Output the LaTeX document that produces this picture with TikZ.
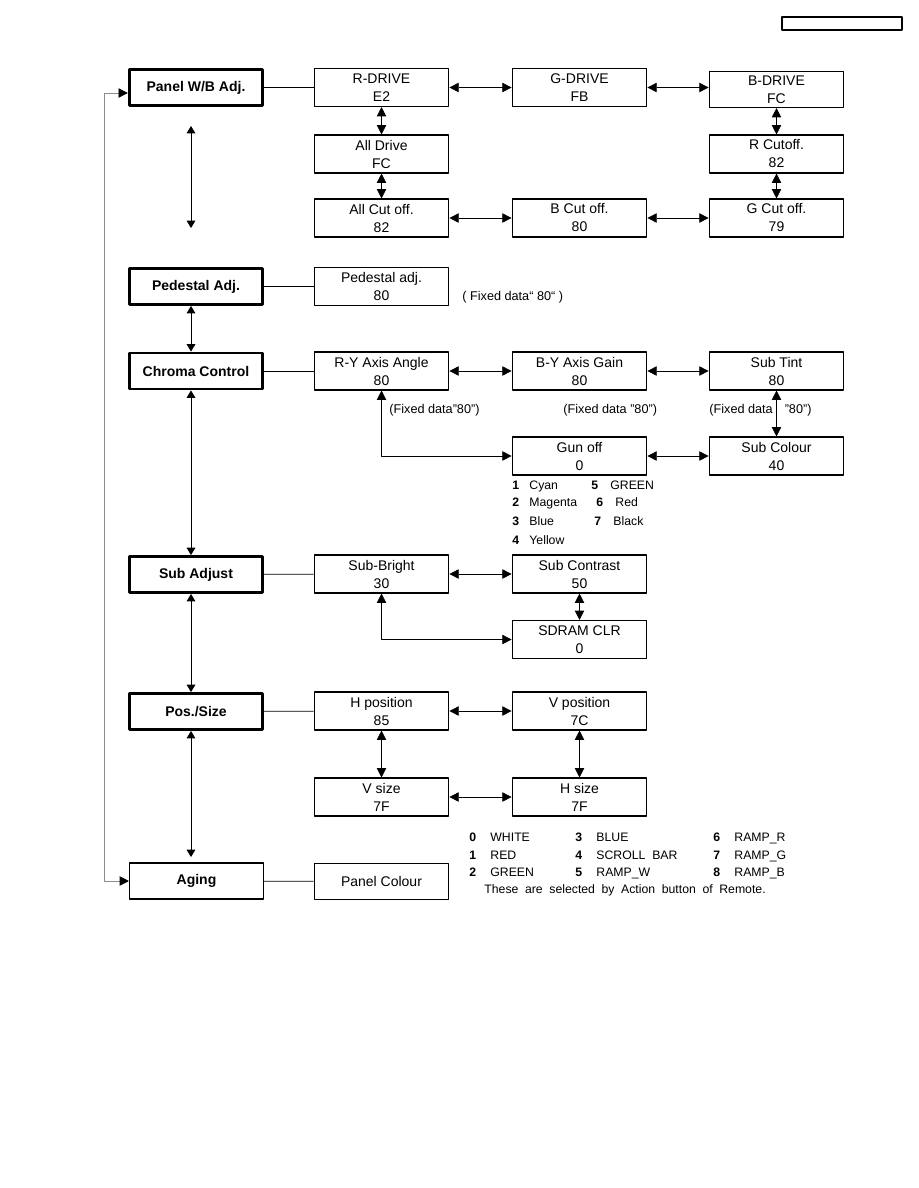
\documentclass[tikz,border=0pt]{standalone}
\usepackage{fontspec}
\setmainfont{Liberation Sans}
\usetikzlibrary{arrows.meta}
\tikzset{
	menu/.style={draw,line width=2.2pt,minimum width=100pt,minimum height=27pt,inner sep=0pt,font=\fontsize{10.5}{12}\selectfont\bfseries},
	val/.style={draw,line width=.8pt,minimum width=101pt,minimum height=28.5pt,inner sep=0pt,align=center,font=\fontsize{10.5}{13.5}\selectfont},
	note/.style={inner sep=0pt,anchor=west,text height=7pt,text depth=2pt,font=\fontsize{9.5}{11}\selectfont},
	item/.style={inner sep=0pt,anchor=west,text height=7pt,text depth=2pt,font=\fontsize{9.2}{11}\selectfont},
	small/.style={>={Triangle[length=5.5pt,width=6.5pt]}},
	fb/.style={draw=black!45,{Triangle[length=7pt,width=7pt,black]}-{Triangle[length=7pt,width=7pt,black]}}
}
\begin{document}
\begin{tikzpicture}[x=.75pt,y=-.75pt,>={Triangle[length=7pt,width=7pt]},line join=round,line width=.6pt]
	\useasboundingbox (0,0) rectangle (918,1188);
	\draw[line width=.8pt] (782,17) rectangle (902,30);
	% cột menu
	\node[menu] (panel) at (196,87.5) {Panel W/B Adj.};
	\node[menu] (pedestal) at (196,286.5) {Pedestal Adj.};
	\node[menu] (chroma) at (196,371) {Chroma Control};
	\node[menu] (subadj) at (196,574.5) {Sub Adjust};
	\node[menu] (possize) at (196,711.5) {Pos./Size};
	\node[menu,line width=.8pt,minimum width=100.5pt] (aging) at (196.5,881) {Aging};
	% Panel W/B
	\node[val] (rdrive) at (381.5,87.5) {R-DRIVE\\E2};
	\node[val] (gdrive) at (579.5,87.5) {G-DRIVE\\FB};
	\node[val,minimum height=27pt] (bdrive) at (776.5,89.5) {B-DRIVE\\FC};
	\node[val] (alldrive) at (381.5,154) {All Drive\\FC};
	\node[val] (rcutoff) at (776.5,154) {R Cutoff.\\82};
	\node[val] (allcut) at (381.5,218) {All Cut off.\\82};
	\node[val] (bcut) at (579.5,218) {B Cut off.\\80};
	\node[val] (gcut) at (776.5,218) {G Cut off.\\79};
	% Pedestal
	\node[val] (pedadj) at (381.5,286.5) {Pedestal adj.\\80};
	\node[note] (pedfix) at (462,297) {( Fixed data“ 80“ )};
	% Chroma
	\node[val] (ryangle) at (381.5,371) {R-Y Axis Angle\\80};
	\node[val] (bygain) at (579.5,371) {B-Y Axis Gain\\80};
	\node[val] (subtint) at (776.5,371) {Sub Tint\\80};
	\node[note] (fixa) at (389,410) {(Fixed data"80”)};
	\node[note] (fixb) at (563,410) {(Fixed data "80”)};
	\node[note] (fixc) at (709,410) {(Fixed data\hspace{9pt}"80”)};
	\node[val] (gunoff) at (579.5,456) {Gun off\\0};
	\node[val] (subcol) at (776.5,456) {Sub Colour\\40};
	\foreach \n/\t/\y in {1/Cyan/486,2/Magenta/503,3/Blue/522,4/Yellow/541}{
		\node[item] (gn\n) at (512,\y) {\textbf{\n}};
		\node[item] (gt\n) at (529,\y) {\t};}
	\foreach \n/\t/\x/\y in {5/GREEN/610/486,6/Red/615/503,7/Black/613/522}{
		\node[item] (gn\n) at (\x-19,\y) {\textbf{\n}};
		\node[item] (gt\n) at (\x,\y) {\t};}
	% Sub Adjust
	\node[val] (subbright) at (381.5,574) {Sub-Bright\\30};
	\node[val] (subcon) at (579.5,574) {Sub Contrast\\50};
	\node[val] (sdram) at (579.5,639.5) {SDRAM CLR\\0};
	% Pos./Size
	\node[val] (hpos) at (381.5,711) {H position\\85};
	\node[val] (vpos) at (579.5,711) {V position\\7C};
	\node[val] (vsize) at (381.5,797) {V size\\7F};
	\node[val] (hsize) at (579.5,797) {H size\\7F};
	% Aging
	\node[val,minimum height=27pt] (pancol) at (381.5,881.5) {Panel Colour};
	\foreach \n/\t/\x/\y in {0/WHITE/490/838,1/RED/490/856,2/GREEN/490/873,
		3/BLUE/596/838,4/{SCROLL\ \ BAR}/596/856,5/RAMP\_W/596/873,
		6/RAMP\_R/734/838,7/RAMP\_G/734/856,8/RAMP\_B/734/873}{
		\node[item] (ln\n) at (\x-21,\y) {\textbf{\n}};
		\node[item] (lt\n) at (\x,\y) {\t};}
	\node[item] (remote) at (484,890) {\makebox[211pt][s]{These are selected by Action button of Remote.}};
	% nối
	\draw (panel) -- (rdrive);
	\draw[<->] (rdrive) -- (gdrive);
	\draw[<->] (gdrive.east) -- (gdrive.east -| bdrive.west);
	\draw[<->] (rdrive) -- (alldrive);
	\draw[<->] (alldrive) -- (allcut);
	\draw[<->] (bdrive) -- (rcutoff);
	\draw[<->] (rcutoff) -- (gcut);
	\draw[<->] (allcut) -- (bcut);
	\draw[<->] (bcut) -- (gcut);
	\draw (pedestal) -- (pedadj);
	\draw (chroma) -- (ryangle);
	\draw[<->] (ryangle) -- (bygain);
	\draw[<->] (bygain) -- (subtint);
	\draw[<->] (subtint) -- (subcol);
	\draw[<->] (gunoff) -- (subcol);
	\draw[<->] (ryangle) |- (gunoff);
	\draw (subadj) -- (subbright);
	\draw[<->] (subbright) -- (subcon);
	\draw[<->] (subcon) -- (sdram);
	\draw[<->] (subbright) |- (sdram);
	\draw (possize) -- (hpos);
	\draw[<->] (hpos) -- (vpos);
	\draw[<->] (hpos) -- (vsize);
	\draw[<->] (vpos) -- (hsize);
	\draw[<->] (vsize) -- (hsize);
	\draw (aging) -- (pancol);
	% trục trái
	\coordinate (ax) at (191,0);
	\coordinate (pa) at (191,126);
	\coordinate (pb) at (191,228);
	\coordinate (pc) at (191,857);
	\draw[<->,small] (pa) -- (pb);
	\draw[<->,small] (ax |- pedestal.south) -- (ax |- chroma.north);
	\draw[<->,small] (ax |- chroma.south) -- (ax |- subadj.north);
	\draw[<->,small] (ax |- subadj.south) -- (ax |- possize.north);
	\draw[<->,small] (ax |- possize.south) -- (pc);
	\coordinate (fbtop) at (104,93);
	\coordinate (fbbot) at (104,881);
	\draw[fb] (panel.west |- fbtop) -- (fbtop) -- (fbbot) -- (aging.west); % vòng về
\end{tikzpicture}
\end{document}
